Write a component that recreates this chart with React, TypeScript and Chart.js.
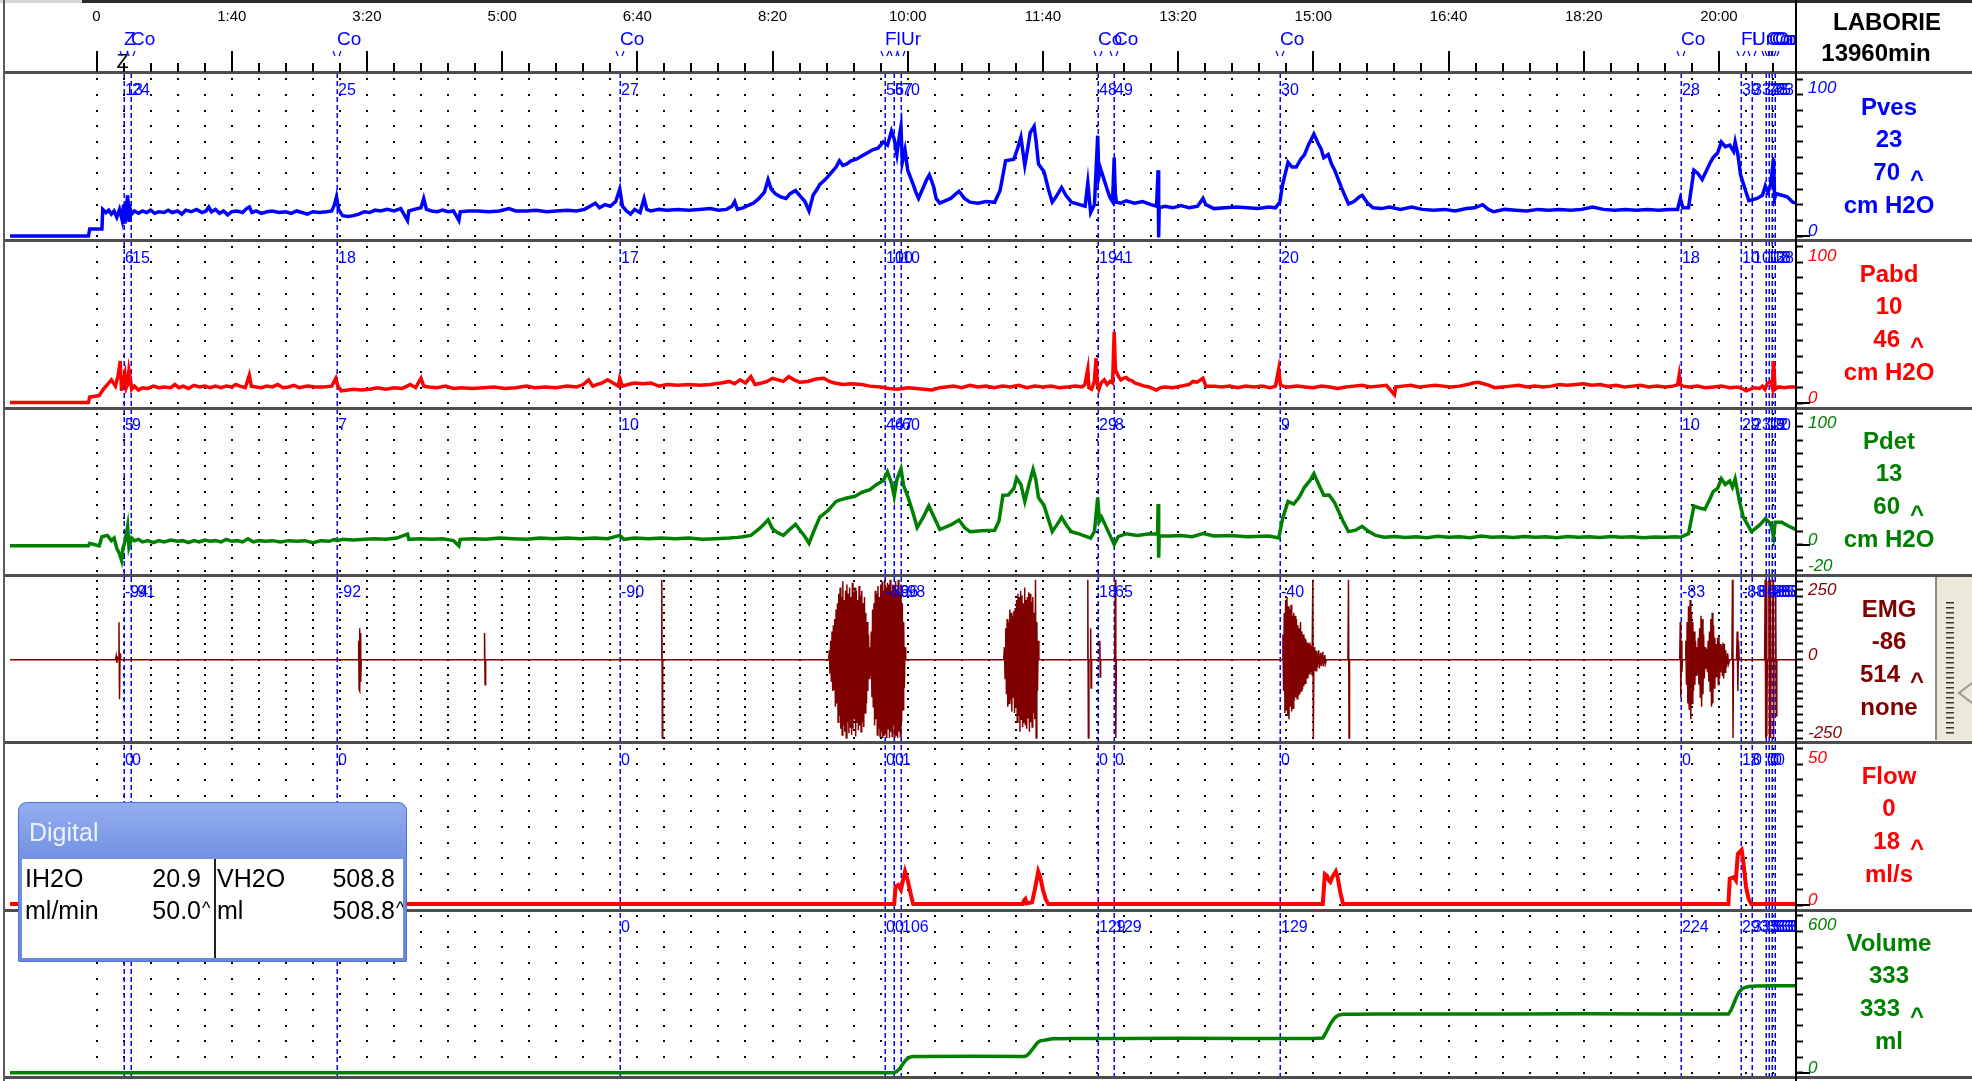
import React, { useEffect, useRef } from 'react';
import { Chart, registerables } from 'chart.js';

Chart.register(...registerables);

type Pt = [number, number];

const W = 1972;
const H = 1081;

// ---------- time axis ----------
const timeTickValues = [0, 100, 200, 300, 400, 500, 600, 700, 800, 900, 1000, 1100, 1200];
const timeTickLabels = ['0', '1:40', '3:20', '5:00', '6:40', '8:20', '10:00', '11:40', '13:20', '15:00', '16:40', '18:20', '20:00'];
const minorTimes: number[] = [];
for (let t = 0; t <= 1240; t += 20) minorTimes.push(t);

const brandLabel = 'LABORIE';
const durationLabel = '13960min';

// ---------- event markers ----------
const markerTimes = [20, 25.3, 177.5, 387, 583, 590, 595, 740.5, 752.7, 875.2, 1172.2, 1216, 1224.5, 1235, 1237, 1239, 1241.5];
const markerCodes = ['Z', 'Co', 'Co', 'Co', 'Fl', '', 'Ur', 'Co', 'Co', 'Co', 'Co', 'Fl', 'Ur', 'Co', 'Co', 'Co', 'Co'];
const pvesMarks = ['13', '24', '25', '27', '56', '57', '70', '48', '49', '30', '28', '39', '33', '26', '28', '25', '23'];
const pabdMarks = ['6', '15', '18', '17', '10', '10', '10', '19', '41', '20', '18', '10', '10', '13', '12', '18', '28'];
const pdetMarks = ['5', '9', '7', '10', '46', '47', '60', '29', '8', '9', '10', '29', '23', '13', '12', '20', '9'];
const emgMarks = ['-94', '-91', '-92', '-90', '-86', '-96', '-98', '18', '65', '-40', '-83', '-88', '-86', '-88', '-85', '-86', '-88'];
const flowMarks = ['0', '0', '0', '0', '0', '0', '1', '0', '0', '0', '0', '18', '0', '0', '0', '0', '0'];
const volMarks = ['0', '0', '0', '0', '0', '0', '106', '129', '129', '129', '224', '293', '333', '333', '333', '333', '333'];

// ---------- right-hand channel readouts ----------
const pvesInfo = ['Pves', '23', '70', 'cm H2O'];
const pabdInfo = ['Pabd', '10', '46', 'cm H2O'];
const pdetInfo = ['Pdet', '13', '60', 'cm H2O'];
const emgInfo = ['EMG', '-86', '514', 'none'];
const flowInfo = ['Flow', '0', '18', 'ml/s'];
const volInfo = ['Volume', '333', '333', 'ml'];

// ---------- axis ticks ----------
const pvesTicks = [0, 10, 20, 30, 40, 50, 60, 70, 80, 90, 100];
const pabdTicks = [0, 10, 20, 30, 40, 50, 60, 70, 80, 90, 100];
const pdetTicks = [-20, -10, 0, 10, 20, 30, 40, 50, 60, 70, 80, 90, 100];
const emgTicks = [-250, -225, -200, -175, -150, -125, -100, -75, -50, -25, 0, 25, 50, 75, 100, 125, 150, 175, 200, 225, 250];
const flowTicks = [0, 5, 10, 15, 20, 25, 30, 35, 40, 45, 50];
const volTicks = [0, 60, 120, 180, 240, 300, 360, 420, 480, 540, 600];

// ---------- traces (time s, value) ----------
const pves: Pt[] = [
  [-64, 0], [-6, 0], [-5, 4.5], [4, 4.5], [4.6, 17], [7, 15], [9, 16.5], [11, 14], [13, 16], [15, 12], [17, 17], [19, 10], [20, 20], [21, 8], [22, 18], [23, 26], [24, 9], [25, 17], [26, 14],
  [28, 16], [31, 14.5], [34, 16], [37, 15], [40, 16.5], [43, 14.5], [46, 15.5], [50, 15], [53, 16.5], [56, 15], [60, 16], [63, 14], [66, 16.5], [70, 15.5], [74, 17], [78, 15], [81, 16], [83, 18.5],
  [85, 15.5], [88, 17], [91, 14.5], [94, 16], [97, 13.5], [100, 15.5], [104, 16], [108, 15], [111, 17.5], [113, 18.5], [115, 15], [118, 16], [122, 14.5], [126, 15.5], [130, 16], [135, 15],
  [140, 15.5], [144, 14.5], [148, 16], [152, 15], [156, 14], [160, 15.5], [165, 15], [170, 15.5], [174, 16], [176, 20], [177.5, 25], [179, 17], [182, 13], [186, 12.5], [190, 13], [194, 14],
  [198, 15.5], [202, 15], [206, 16.5], [210, 16], [215, 17], [220, 16], [225, 17.5], [230, 10], [231, 16], [235, 17], [240, 18], [242, 24], [244, 17], [248, 16], [252, 15.5], [256, 16.5],
  [260, 15.5], [264, 16], [268, 10], [269, 15.5], [275, 16], [282, 16], [290, 15.5], [298, 16], [305, 17.5], [310, 16], [318, 16], [325, 16.5], [333, 15.5], [340, 16], [348, 16.5], [355, 16],
  [361, 17], [365, 19], [369, 21], [372, 18], [376, 20], [380, 19], [384, 22], [387, 30], [389, 19], [392, 16], [395, 14], [398, 17], [402, 15], [405, 24], [407, 17], [410, 16], [416, 17],
  [422, 16.5], [430, 17], [438, 16.5], [446, 17], [454, 17.5], [460, 16.5], [466, 17], [470, 19], [472, 22], [474, 17], [478, 18], [482, 19.5], [486, 21], [490, 24], [494, 28], [496.7, 36],
  [499, 30], [502, 27], [506, 25], [510, 24], [513, 27], [517, 29], [521, 25], [524, 22], [527, 16], [530, 26], [533, 30], [535, 33], [539, 36], [543, 40], [547, 44], [549.5, 48], [552, 45],
  [555, 46], [558, 48], [562, 49], [566, 51], [570, 53], [574, 55], [578, 56], [582, 60], [585, 58], [588, 67], [590, 62], [592, 52], [594, 65], [595, 70], [596, 47], [598, 55], [600, 42],
  [604, 33], [606, 28], [608, 24], [611, 30], [614, 36], [616, 39], [619, 32], [621, 24], [623.7, 21], [631.8, 24], [637.9, 28.6], [642, 24], [646, 21.6], [652, 21], [658, 22], [664.3, 21.5],
  [668.3, 29], [672.4, 48], [678.5, 49], [681.3, 56], [683.7, 63], [686.6, 45], [688.6, 55], [690.6, 66], [693.5, 70], [695, 60], [696.7, 46], [700.8, 41], [704, 30], [706.9, 21.6], [709.7, 25],
  [713.8, 31], [717, 26], [721, 21.6], [727.2, 20], [731.2, 19], [733.2, 34], [734.5, 22], [735.3, 15], [738.1, 20], [740.5, 64], [741.4, 38], [742.6, 43], [745.4, 35.5], [747.4, 30],
  [749.5, 24.8], [751.5, 22], [752.7, 50], [753.5, 28], [754.3, 21.6], [757.6, 21], [761.6, 22.5], [767.7, 21], [773.8, 22], [779.9, 20], [784, 19], [785.2, 42], [785.6, -0.9], [786, 18],
  [790, 19], [796.1, 18], [802.2, 19.5], [808.3, 18], [814.4, 19], [818.4, 24], [820.5, 20], [826.6, 17.5], [834.7, 18], [842.8, 18.5], [850.9, 18], [859, 17.5], [867.1, 18.5], [872, 18],
  [875.2, 21.6], [877.3, 33], [881.3, 47], [884.2, 44], [887.4, 44], [890.7, 49], [893.5, 52], [896.3, 58], [900.4, 65], [903.6, 59], [905.7, 55.7], [907.7, 50], [911, 52], [913.4, 46],
  [915.8, 42], [920.7, 31], [926, 20.5], [930, 22], [934, 25], [936.1, 26], [940.1, 21], [944.2, 18], [950.3, 17.5], [956.4, 18.5], [964.5, 17], [972.6, 18.5], [980.7, 17], [988.8, 16.5],
  [997, 17], [1005, 16], [1013.2, 17.5], [1019.3, 18], [1025.3, 20], [1029.4, 17], [1033.5, 15.5], [1041.6, 17], [1049.7, 16.5], [1057.8, 16], [1066, 17], [1074, 16.5], [1082.1, 17],
  [1090.3, 16.5], [1098.4, 17], [1106.5, 18.5], [1114.6, 17], [1122.7, 16.5], [1130.8, 17], [1139, 16.5], [1147, 17], [1155.2, 16.5], [1163.3, 17], [1169.4, 17], [1171.4, 24], [1173.4, 18],
  [1177.5, 18], [1179.5, 30], [1181.5, 42], [1184.4, 40], [1187.6, 36], [1190.9, 42], [1193.7, 47], [1195.7, 50], [1199, 53], [1201.8, 60], [1204.7, 57], [1208, 58], [1210.8, 54], [1212, 60],
  [1214, 52], [1216, 39], [1219.3, 30], [1222.1, 22.6], [1228.2, 24], [1232.2, 26], [1234.3, 32], [1236.3, 28], [1238.3, 33], [1240.4, 49.5], [1241.2, 24], [1242.4, 27], [1246.5, 26],
  [1250.5, 25], [1254.6, 21.6], [1257, 21],
];

const pabd: Pt[] = [
  [-64, 0.5], [-6, 0.5], [-5, 4], [2, 5], [5, 9], [8, 12], [11, 15], [14, 11], [16, 18], [17.5, 27], [18.5, 8], [19.5, 14], [21, 19], [22, 10], [23, 12], [24, 21], [25, 16], [26, 9], [28, 11],
  [31, 8.5], [34, 10], [38, 9.5], [42, 11], [46, 10], [50, 10.5], [55, 10], [58, 12], [61, 10], [64, 11], [68, 9.5], [72, 11.5], [76, 10.5], [80, 11], [84, 10], [88, 11], [92, 10], [96, 11],
  [100, 10.5], [103, 12], [106, 11], [110, 10], [113, 18], [114.5, 11], [118, 10.5], [122, 10], [126, 11], [130, 10.5], [134, 12], [138, 10], [142, 10.5], [146, 11.5], [150, 10], [156, 11],
  [162, 10.5], [168, 10.5], [174, 11], [177, 16], [178.5, 11], [181, 8], [186, 8.5], [190, 9], [196, 8.5], [202, 9], [208, 10], [214, 9], [220, 10], [226, 9.5], [232, 12], [236, 10], [240, 16],
  [242, 11], [246, 10.5], [252, 10], [258, 11], [264, 9.5], [270, 10], [278, 9.5], [286, 10], [294, 10.5], [302, 9.5], [310, 10], [318, 11], [324, 10], [332, 10.5], [340, 10], [348, 11],
  [355, 10.5], [360, 12], [364, 15], [367, 11], [370, 12], [374, 13], [378, 15], [382, 13], [386, 11], [387, 16], [389, 11], [393, 12], [398, 13], [404, 12.5], [410, 13], [416, 11], [422, 12],
  [430, 11.5], [438, 12], [446, 11.5], [454, 12], [462, 13], [468, 14], [472, 12.5], [476, 15], [480, 13], [484, 17], [487, 12], [492, 13], [496, 14], [500, 16], [504, 15], [508, 14], [512, 17],
  [516, 15], [520, 13.5], [526, 14], [532, 15.5], [538, 16], [542, 14], [546, 13], [552, 12], [558, 12.5], [566, 12], [572, 11], [580, 10.5], [586, 9.5], [592, 9], [600, 10], [606, 9.5], [612, 9],
  [618, 8.5], [623.7, 10], [628, 10.5], [634, 11], [640, 10], [646, 11.5], [652, 10.5], [658, 11], [664, 10], [670, 11], [676, 10.5], [682, 11.5], [688, 10], [694, 11], [700, 10.5], [706, 11],
  [712, 10], [718, 10.5], [724, 11], [729, 10.5], [731, 12], [733.2, 22], [734, 10], [736, 9], [738, 14], [739.3, 28.8], [740.2, 12], [741.4, 9], [743, 13], [745.4, 15], [747.5, 12], [749.5, 14],
  [751.5, 13], [752.7, 45.7], [753.6, 22], [754.3, 20], [756, 17], [757.6, 15], [759.5, 16], [761.6, 16.5], [763.5, 15], [765.7, 14.5], [768, 13], [771.8, 12], [775, 11], [777.9, 10.6],
  [781, 9.5], [783.9, 8.5], [787, 10], [790, 10.5], [796, 10], [802, 11], [808, 12], [811, 14], [814, 13.5], [818.4, 16], [820.5, 11], [826.6, 11], [832, 10.5], [838, 11], [844, 10],
  [850, 11], [856, 10.5], [862, 11], [868, 10], [872, 11], [874.4, 22], [875.6, 12], [877.3, 11], [882, 10.5], [888, 11], [894, 10.5], [900, 10], [906, 11], [912, 10.5], [918, 9.5], [924, 10.5],
  [930, 11], [936, 11.5], [942, 10.5], [948, 11], [954, 11.5], [960, 5.5], [961, 10.5], [966, 11], [972, 11.5], [978, 10.5], [984, 11], [990, 11.5], [996, 11], [1002, 10.5], [1008, 11],
  [1014, 12], [1018, 13], [1022, 13.5], [1026, 12.5], [1030, 11.5], [1034, 10], [1040, 10.5], [1046, 11], [1052, 11.5], [1058, 10.5], [1064, 11], [1070, 10.5], [1076, 11], [1082, 12],
  [1088, 11.5], [1094, 12], [1100, 12.5], [1106, 11.5], [1112, 12], [1118, 11], [1124, 11.5], [1130, 10.5], [1136, 11], [1142, 11.5], [1148, 10.5], [1154, 11], [1160, 10.5], [1166, 11],
  [1169.5, 12], [1170.6, 18], [1171.5, 12], [1173.4, 11], [1178, 10.5], [1184, 11], [1190, 10], [1196, 10.5], [1202, 11], [1208, 10], [1214, 10.5], [1218, 9], [1220.1, 8], [1223, 9],
  [1226, 10], [1230, 9.5], [1232.2, 11], [1234, 9], [1236, 13], [1238.3, 14], [1239.5, 10], [1240.4, 27], [1241.6, 9], [1244, 10.5], [1248.5, 10], [1252, 10.5], [1257, 10.5],
];

const pdet: Pt[] = [
  [-64, -1], [-6, -1], [-5, 1], [2, -1], [4, 6], [8, 7], [11, 3], [13, 5], [15, -3], [17, -7], [18.5, -12], [19.5, -3], [21, 2], [23, 14], [24, -2], [26, 5], [28, 3], [31, 4], [34, 2], [38, 3],
  [42, 1.5], [46, 3], [50, 2], [55, 3.5], [60, 2.5], [64, 3], [68, 1.5], [72, 3], [76, 2], [80, 3.5], [84, 2.5], [88, 3], [92, 2], [96, 4], [100, 2.5], [104, 3], [108, 2], [112, 4.5], [116, 2],
  [120, 3], [125, 2.5], [130, 3], [136, 2], [142, 3], [148, 2.5], [154, 3], [160, 1.5], [166, 3], [172, 2.5], [176, 4], [178, 3], [182, 4], [190, 3.5], [198, 4], [206, 4.5], [214, 4], [222, 5],
  [230, 8], [231, 4], [240, 4.5], [248, 4], [256, 4.5], [264, 3], [268, -1], [269, 4], [278, 4.5], [288, 4], [298, 5], [308, 4.5], [318, 4], [328, 5], [338, 4.5], [348, 5], [358, 4.5], [368, 5],
  [378, 4.5], [387, 7], [390, 4], [398, 5], [408, 4.5], [418, 5], [428, 4.5], [438, 5], [448, 4], [458, 4.5], [468, 5], [474, 5.5], [478, 6], [484, 7], [490, 12], [494, 16], [496.7, 19],
  [500, 12], [504, 9], [508, 7], [512, 11], [517, 15.5], [521, 10], [524, 6], [527, 1], [530, 9], [535, 21], [541, 26], [547, 33], [549.5, 34], [555, 35.6], [561, 37], [566, 40], [572, 42],
  [577, 46], [582, 49], [585, 55.7], [588, 47], [590, 37], [592, 50], [595, 57.9], [597, 45], [600, 37], [604, 24], [607, 13], [611, 20], [615.6, 29.6], [619, 22], [623.7, 11.5], [631.8, 15],
  [637.9, 18.8], [642, 13], [646, 9.9], [654.1, 10.5], [664.3, 11], [667.5, 18], [670.4, 37.8], [674.4, 38], [678.5, 43], [680.5, 51], [683.7, 46], [686.6, 33], [689.4, 45], [692.7, 57.6],
  [694.7, 50], [696.7, 36], [700.8, 30], [706.9, 9.9], [710.9, 16], [713.8, 20.8], [717.8, 14], [721, 9.9], [727.2, 8], [735.3, 5], [738.1, 10], [740.5, 36], [741.8, 18], [743.4, 21],
  [747.4, 12], [752.7, 0], [755.6, 6], [761.6, 8.3], [769.8, 7], [777.9, 8], [784.8, 8], [785.2, 31], [785.6, -10], [786, 6.6], [794.1, 6.5], [802.2, 7], [810.3, 6], [818.4, 8.5], [826.6, 6.5],
  [838.7, 7], [850.9, 6], [867.1, 6.5], [874.4, 5], [877.3, 20], [881.3, 33], [885.4, 31], [889.4, 36], [893.5, 44], [897.5, 49], [900.4, 54.3], [903.6, 47], [907.7, 37.8], [911.7, 38],
  [915.8, 32], [921.9, 18], [926, 9.9], [931.2, 11], [936.1, 14], [941, 10], [946.2, 7], [952.3, 5.6], [960, 6.2], [968, 5.4], [976, 6], [984, 5.2], [992, 6.4], [1000, 5.6], [1008, 6],
  [1016, 5.3], [1024, 6.5], [1032, 5.6], [1040, 6], [1048, 5.4], [1056, 6.2], [1064, 5.6], [1072, 6], [1080, 5.3], [1088, 6.1], [1096, 5.6], [1104, 6], [1112, 5.4], [1120, 6.2], [1128, 5.6],
  [1136, 6], [1144, 5.2], [1152, 5.8], [1160, 5.6], [1168, 6], [1171.4, 5.6], [1177.5, 8.3], [1181.5, 29.5], [1185.6, 28], [1189.6, 27], [1192.9, 34], [1195.7, 40.5], [1199, 43],
  [1201.8, 50.4], [1204.7, 46], [1208, 48.6], [1210, 44], [1212, 50.4], [1215.2, 33], [1218, 21], [1224.1, 9.9], [1230.2, 15], [1234.3, 19.8], [1238.3, 16], [1240.4, 6], [1241.6, 17],
  [1246.5, 17], [1251.7, 14], [1257, 11.5],
];

const emg: Pt[] = [
  [-64, 0], [14, 0], [14.5, 12], [15, -10], [15.5, 6], [16.2, 0], [16.6, 119], [17, -126], [17.4, 20], [17.8, 0],
  [193.6, 0], [193.9, 60], [194.2, -95], [194.5, 100], [194.8, -100], [195.1, 85], [195.4, -70], [195.8, 0],
  [286.6, 0], [287, 85], [287.4, -80], [287.8, 0],
  [417.8, 0], [418.1, 255], [418.5, -250], [418.8, 0],
  [541.5, 0], [542, 30], [542.5, -45], [543, 60], [543.5, -70], [544, 90], [544.5, -100], [545, 110], [545.5, -95], [546, 130], [546.5, -150], [547, 160], [547.5, -140], [548, 180],
  [548.5, -200], [549, 210], [549.5, -180], [550, 230], [550.5, -220], [551, 200], [551.5, -240], [552, 250], [552.5, -210], [553, 190], [553.5, -230], [554, 220], [554.5, -250], [555, 240],
  [555.5, -200], [556, 210], [556.5, -235], [557, 230], [557.5, -215], [558, 200], [558.5, -240], [559, 245], [559.5, -220], [560, 215], [560.5, -190], [561, 230], [561.5, -245], [562, 220],
  [562.5, -200], [563, 190], [563.5, -225], [564, 235], [564.5, -210], [565, 205], [565.5, -230], [566, 220], [566.5, -200], [567, 180], [567.5, -215], [568, 200], [568.5, -170], [569, 150],
  [569.5, -140], [570, 120], [570.5, -100], [571, 80], [571.5, -60], [572, 40], [572.5, -50], [573, 90], [573.5, -120], [574, 160], [574.5, -150], [575, 180], [575.5, -210], [576, 220],
  [576.5, -190], [577, 210], [577.5, -240], [578, 235], [578.5, -220], [579, 200], [579.5, -245], [580, 240], [580.5, -230], [581, 250], [581.5, -250], [582, 220], [582.5, -240], [583, 255],
  [583.5, -235], [584, 230], [584.5, -250], [585, 245], [585.5, -220], [586, 240], [586.5, -250], [587, 255], [587.5, -230], [588, 220], [588.5, -245], [589, 240], [589.5, -210], [590, 230],
  [590.5, -250], [591, 250], [591.5, -240], [592, 225], [592.5, -250], [593, 255], [593.5, -230], [594, 210], [594.5, -245], [595, 240], [595.5, -200], [596, 180], [596.5, -160], [597, 120],
  [597.5, -90], [598, 40], [598.5, 0],
  [671, 0], [671.5, 40], [672, -60], [672.5, 100], [673, -110], [673.5, 130], [674, -150], [674.5, 120], [675, -140], [675.5, 160], [676, -130], [676.5, 150], [677, -165], [677.5, 140],
  [678, -120], [678.5, 155], [679, -170], [679.5, 165], [680, -150], [680.5, 190], [681, -200], [681.5, 210], [682, -180], [682.5, 200], [683, -230], [683.5, 220], [684, -190], [684.5, 205],
  [685, -215], [685.5, 180], [686, -200], [686.5, 230], [687, -210], [687.5, 190], [688, -220], [688.5, 200], [689, -185], [689.5, 215], [690, -230], [690.5, 210], [691, -200], [691.5, 185],
  [692, -215], [692.5, 200], [693, -170], [693.5, 150], [694, -190], [694.5, 255], [695, -250], [695.5, 120], [696, -100], [696.5, 60], [697, 0],
  [732.8, 0], [733.2, 255], [733.6, -250], [734, 0], [735, 0], [735.3, 100], [735.6, -90], [736, 0], [741.8, 0], [742.1, 60], [742.4, -55], [742.7, 0], [753.1, 0], [753.5, 255], [753.9, -250], [754.3, 0],
  [877, 0], [877.5, 80], [878, -100], [878.5, 150], [879, -170], [879.5, 190], [880, -160], [880.5, 200], [881, -180], [881.5, 170], [882, -190], [882.5, 160], [883, -150], [883.5, 175],
  [884, -165], [884.5, 140], [885, -155], [885.5, 150], [886, -130], [886.5, 140], [887, -120], [887.5, 130], [888, -125], [888.5, 110], [889, -115], [889.5, 100], [890, -110], [890.5, 120],
  [891, -100], [891.5, 90], [892, -95], [892.5, 80], [893, -85], [893.5, 70], [894, -75], [894.5, 65], [895, -60], [895.5, 55], [896, -60], [896.5, 50], [897, -45], [897.5, 55], [898, -40],
  [898.5, 45], [899, -50], [899.6, 255], [900, -250], [900.5, 40], [901, -35], [901.5, 30], [902, -35], [902.5, 28], [903, -25], [904, 30], [904.5, -28], [905.5, 22], [906, -20], [907, 25],
  [907.5, -22], [908.5, 15], [909, -12], [909.7, 0],
  [925.6, 0], [926, 255], [926.4, -250], [926.8, 0],
  [1171, 0], [1171.4, 120], [1171.8, -120], [1172.2, 60], [1172.6, -40], [1173, 0], [1175, 0], [1175.5, 60], [1176, -80], [1176.5, 120], [1177, -140], [1177.5, 170], [1178, -160],
  [1178.7, 190], [1179.2, -190], [1179.7, 150], [1180.2, -140], [1180.7, 120], [1181.2, -100], [1181.7, 90], [1182.2, -80], [1182.7, 60], [1183.2, -50], [1183.7, 40], [1184.2, -45],
  [1184.7, 70], [1185.2, -80], [1185.7, 100], [1186.2, -120], [1186.7, 140], [1187.2, -150], [1187.7, 130], [1188.2, -110], [1188.7, 80], [1189.2, -60], [1189.7, 40], [1190.2, -30],
  [1191, 35], [1191.5, -40], [1192, 60], [1192.5, -70], [1193, 90], [1193.5, -100], [1194, 130], [1194.5, -150], [1195, 150], [1195.5, -140], [1196, 110], [1196.5, -90], [1197, 70],
  [1197.5, -60], [1198, 50], [1198.5, -55], [1199, 70], [1199.5, -80], [1200, 75], [1200.5, -60], [1201, 50], [1201.5, -40], [1202, 45], [1202.5, -50], [1203, 55], [1203.5, -60], [1204, 50],
  [1204.5, -40], [1205, 30], [1205.5, -25], [1206.5, 20], [1207, -15], [1208, 0], [1209.6, 0], [1210, 255], [1210.4, -250], [1210.8, 0], [1213, 0], [1213.5, 90], [1214, -100], [1214.5, 60],
  [1215, 0], [1233.8, 0], [1234.2, 255], [1234.6, -250], [1235, 250], [1235.4, -245], [1235.8, 0], [1236.6, 0], [1237, 255], [1237.4, -250], [1237.8, 255], [1238.2, -250], [1238.6, 0],
  [1239.6, 0], [1240, 255], [1240.4, -250], [1240.8, 0], [1241.5, 0], [1242, 200], [1242.4, -180], [1242.8, 0], [1257, 0],
];

const flow: Pt[] = [
  [-64, 0.4], [590, 0.4], [591, 6], [593, 6.5], [595, 5], [596, 7], [598, 10.8], [600, 8], [602, 4], [604, 0.4], [685, 0.4], [686, 1.5], [687, 2], [688, 0.6], [692, 1], [694, 5], [696.5, 10.8],
  [698, 9], [700, 5], [702, 2], [704, 0.4], [907, 0.4], [908.5, 10], [910, 9.5], [911.5, 8], [912.6, 7.5], [914, 9], [916.6, 10.8], [918, 9], [920, 4], [922, 0.4], [1207, 0.4], [1208, 8.5],
  [1211, 9], [1212.5, 8], [1214, 16.4], [1216.8, 17.7], [1218, 14], [1220, 6], [1222, 2], [1224, 0.4], [1257, 0.4],
];

const volume: Pt[] = [
  [-64, 0], [590, 0], [592, 5], [594, 15], [596, 30], [598, 45], [600, 55], [602, 60], [604, 62], [610, 62], [650, 62.5], [686, 62], [688, 65], [690, 75], [693, 95], [696, 115], [698, 122],
  [701, 124], [705, 128], [708, 131], [712, 130], [720, 131], [760, 131], [800, 131.5], [850, 131], [900, 131], [907, 133], [909, 150], [911, 170], [913, 190], [915, 205], [917, 215],
  [919, 221], [922, 224], [930, 224], [950, 225], [1000, 225], [1050, 225], [1100, 225.5], [1150, 225], [1207, 225], [1209, 240], [1211, 265], [1213, 290], [1215, 310], [1217, 320],
  [1219, 326], [1222, 330], [1228, 332], [1240, 333], [1257, 333],
];

// ---------- panel set-up (top to bottom) ----------
const FONT = '"Liberation Sans", Arial, sans-serif';

const panels = [
  { id: 'yPves', color: '#0000ff', min: -2.74, max: 104, ticks: pvesTicks, data: pves, width: 3.5, info: pvesInfo, marks: pvesMarks, zeroTick: true, yLabels: [[100, '100', 'top'], [0, '0', 'bottom']] },
  { id: 'yPabd', color: '#ff0000', min: -2.74, max: 104, ticks: pabdTicks, data: pabd, width: 3.5, info: pabdInfo, marks: pabdMarks, zeroTick: true, yLabels: [[100, '100', 'top'], [0, '0', 'bottom']] },
  { id: 'yPdet', color: '#008000', min: -23.3, max: 104.8, ticks: pdetTicks, data: pdet, width: 3.5, info: pdetInfo, marks: pdetMarks, zeroTick: true, yLabels: [[100, '100', 'top'], [0, '0', 'bottom'], [-20, '-20', 'bottom']] },
  { id: 'yEmg', color: '#800000', min: -263.7, max: 270.1, ticks: emgTicks, data: emg, width: 1.5, info: emgInfo, marks: emgMarks, zeroTick: false, yLabels: [[250, '250', 'top'], [0, '0', 'bottom'], [-250, '-250', 'bottom']] },
  { id: 'yFlow', color: '#ff0000', min: -1.37, max: 52, ticks: flowTicks, data: flow, width: 4, info: flowInfo, marks: flowMarks, zeroTick: true, yLabels: [[50, '50', 'top'], [0, '0', 'bottom']] },
  { id: 'yVol', color: '#008000', min: -16.5, max: 624, ticks: volTicks, data: volume, width: 3.5, info: volInfo, marks: volMarks, zeroTick: true, yLabels: [[600, '600', 'top'], [0, '0', 'bottom']] },
];

const RIGHT_W = 176;

const drawPlugin = {
  id: 'laborieDecor',
  beforeDraw(chart: any) {
    const ctx = chart.ctx;
    ctx.save();
    ctx.fillStyle = '#ffffff';
    ctx.fillRect(0, 0, W, H);
    ctx.restore();
  },
  beforeDatasetsDraw(chart: any) {
    const ctx = chart.ctx;
    const ca = chart.chartArea;
    const xs = chart.scales.x;
    ctx.save();
    ctx.fillStyle = '#000';
    for (const p of panels) {
      const ys = chart.scales[p.id];
      for (const v of p.ticks) {
        const y = Math.round(ys.getPixelForValue(v));
        for (const t of minorTimes) {
          const x = Math.round(xs.getPixelForValue(t));
          ctx.fillRect(x - 1, y - 1, 2, 2);
        }
      }
    }
    ctx.strokeStyle = '#0000ff';
    ctx.lineWidth = 1.5;
    ctx.setLineDash([5, 3]);
    for (const t of markerTimes) {
      const x = Math.round(xs.getPixelForValue(t)) + 0.25;
      ctx.beginPath();
      ctx.moveTo(x, ca.top);
      ctx.lineTo(x, ca.bottom);
      ctx.stroke();
    }
    ctx.restore();
  },
  afterDatasetsDraw(chart: any) {
    const ctx = chart.ctx;
    const ca = chart.chartArea;
    const xs = chart.scales.x;
    ctx.save();

    // panel separators
    ctx.fillStyle = '#4d4d4d';
    for (let i = 1; i < panels.length; i++) {
      const y = Math.round(chart.scales[panels[i].id].top);
      ctx.fillRect(4, y - 1, W - 4, 3);
    }
    ctx.fillRect(4, Math.round(ca.bottom) - 1, W - 4, 3);
    ctx.fillRect(4, Math.round(ca.top) - 2, W - 4, 3);
    // frame
    ctx.fillStyle = '#2b2b2b';
    ctx.fillRect(0, 0, W, 3);
    ctx.fillStyle = '#d8d8d8';
    ctx.fillRect(0, 0, 82, 3);
    ctx.fillStyle = '#5a5a5a';
    ctx.fillRect(3, 0, 2, H);
    ctx.fillStyle = '#000';
    ctx.fillRect(Math.round(ca.right) - 1, 0, 2, H);

    // header ticks & time labels
    ctx.fillStyle = '#000';
    for (const t of minorTimes) {
      const x = Math.round(xs.getPixelForValue(t));
      const major = timeTickValues.indexOf(t) >= 0;
      if (major) ctx.fillRect(x - 1, 51, 2, 21);
      else ctx.fillRect(x - 1, 63, 2, 9);
    }
    ctx.font = `15px ${FONT}`;
    ctx.textAlign = 'center';
    ctx.textBaseline = 'middle';
    timeTickValues.forEach((t, i) => ctx.fillText(timeTickLabels[i], xs.getPixelForValue(t), 17));

    // black zero flag
    ctx.font = `20px ${FONT}`;
    ctx.fillText('Z', xs.getPixelForValue(markerTimes[0]) - 1, 62);

    // marker texts (clipped to the plot width)
    ctx.save();
    ctx.beginPath();
    ctx.rect(0, 0, ca.right - 1, H);
    ctx.clip();
    ctx.fillStyle = '#0000ff';
    ctx.strokeStyle = '#0000ff';
    ctx.lineWidth = 1.2;
    ctx.textAlign = 'left';
    ctx.textBaseline = 'middle';
    ctx.font = `19px ${FONT}`;
    markerTimes.forEach((t, i) => {
      const x = Math.round(xs.getPixelForValue(t));
      if (markerCodes[i]) ctx.fillText(markerCodes[i], x, 40);
      ctx.beginPath();
      ctx.moveTo(x - 4, 51);
      ctx.lineTo(x - 2, 56);
      ctx.moveTo(x + 2, 56);
      ctx.lineTo(x + 4, 51);
      ctx.stroke();
    });
    ctx.font = `16px ${FONT}`;
    for (const p of panels) {
      const top = chart.scales[p.id].top;
      markerTimes.forEach((t, i) => {
        const x = Math.round(xs.getPixelForValue(t));
        ctx.fillText(p.marks[i], x + 1, top + 18);
      });
    }
    ctx.restore();

    // right panel header
    const cx = 1889;
    ctx.fillStyle = '#000';
    ctx.textAlign = 'center';
    ctx.textBaseline = 'middle';
    ctx.font = `bold 24px ${FONT}`;
    ctx.fillText(brandLabel, 1887, 23);
    ctx.fillText(durationLabel, 1876, 54);

    for (const p of panels) {
      const s = chart.scales[p.id];
      const top = s.top;
      ctx.fillStyle = p.color;
      ctx.font = `bold 24px ${FONT}`;
      ctx.textAlign = 'center';
      ctx.textBaseline = 'middle';
      ctx.fillText(p.info[0], cx, top + 35);
      ctx.fillText(p.info[1], cx, top + 67);
      ctx.textAlign = 'right';
      ctx.fillText(p.info[2], 1900, top + 100);
      ctx.textAlign = 'center';
      ctx.fillText(p.info[3], cx, top + 133);
      ctx.font = `bold 24px ${FONT}`;
      ctx.textBaseline = 'alphabetic';
      ctx.fillText('^', 1917, top + 114);

      ctx.font = `italic 17px ${FONT}`;
      ctx.textAlign = 'left';
      ctx.textBaseline = 'alphabetic';
      for (const [v, txt, al] of p.yLabels as any[]) {
        const y = s.getPixelForValue(v);
        ctx.fillText(txt, 1808, al === 'top' ? y + 14 : y);
      }
      if (p.zeroTick) {
        ctx.fillStyle = '#000';
        ctx.fillRect(ca.right, Math.round(s.getPixelForValue(0)) - 1, 14, 2);
      }
    }

    // EMG scroll widget
    const emgS = chart.scales.yEmg;
    const wy0 = Math.round(emgS.top) + 2;
    const wy1 = Math.round(emgS.bottom) - 2;
    ctx.fillStyle = '#ece9d8';
    ctx.fillRect(1935, wy0, W - 1935, wy1 - wy0);
    ctx.fillStyle = '#8c8c8c';
    ctx.fillRect(1935, wy0, 2, wy1 - wy0);
    ctx.fillStyle = '#333';
    for (let y = wy0 + 25; y < wy1 - 4; y += 5) ctx.fillRect(1946, y, 8, 1.5);
    ctx.strokeStyle = '#9a9a9a';
    ctx.lineWidth = 2;
    ctx.beginPath();
    ctx.moveTo(W, wy0 + 106);
    ctx.lineTo(1959, wy0 + 116);
    ctx.lineTo(W, wy0 + 126);
    ctx.stroke();

    ctx.restore();
  },
};

function DigitalBox() {
  const txt: React.CSSProperties = { position: 'absolute', fontSize: 25, lineHeight: '26px', color: '#000', whiteSpace: 'nowrap' };
  return (
    <div
      style={{
        position: 'absolute', left: 18, top: 802, width: 389, height: 160,
        borderRadius: '9px 9px 2px 2px',
        background: 'linear-gradient(180deg, #93aef0 0%, #7492e2 35%, #6a88dc 100%)',
        boxShadow: 'inset 0 0 0 1px #5573cc',
        fontFamily: FONT, overflow: 'hidden',
      }}
    >
      <div style={{ position: 'absolute', left: 11, top: 0, height: 57, lineHeight: '60px', color: '#eef2ff', fontSize: 25 }}>Digital</div>
      <div style={{ position: 'absolute', left: 4, top: 57, width: 381, height: 99, background: '#fff', overflow: 'hidden' }}>
        <span style={{ ...txt, left: 3, top: 6 }}>IH2O</span>
        <span style={{ ...txt, right: 202, top: 6 }}>20.9</span>
        <span style={{ ...txt, left: 3, top: 38 }}>ml/min</span>
        <span style={{ ...txt, right: 202, top: 38 }}>50.0</span>
        <span style={{ ...txt, left: 180, top: 36, fontSize: 18 }}>^</span>
        <div style={{ position: 'absolute', left: 192, top: 0, width: 2, height: 99, background: '#222' }} />
        <span style={{ ...txt, left: 195, top: 6 }}>VH2O</span>
        <span style={{ ...txt, right: 8, top: 6 }}>508.8</span>
        <span style={{ ...txt, left: 195, top: 38 }}>ml</span>
        <span style={{ ...txt, right: 8, top: 38 }}>508.8</span>
        <span style={{ ...txt, left: 374, top: 36, fontSize: 18 }}>^</span>
      </div>
    </div>
  );
}

export default function App() {
  const ref = useRef<HTMLCanvasElement | null>(null);

  useEffect(() => {
    if (!ref.current) return;
    const scales: any = {
      x: { type: 'linear', min: -64, max: 1257, display: false },
    };
    panels.forEach((p) => {
      scales[p.id] = {
        type: 'linear',
        position: 'right',
        stack: 'panels',
        stackWeight: 1,
        min: p.min,
        max: p.max,
        afterBuildTicks: (s: any) => {
          s.ticks = p.ticks.map((v) => ({ value: v }));
        },
        afterFit: (s: any) => {
          s.width = RIGHT_W;
        },
        ticks: { display: false },
        grid: { drawOnChartArea: false, drawTicks: true, tickLength: 7, tickWidth: 2, tickColor: '#000', color: '#000' },
        border: { display: true, color: '#000', width: 2 },
      };
    });

    const chart = new Chart(ref.current, {
      type: 'line',
      data: {
        datasets: panels.map((p) => ({
          data: p.data.map(([x, y]) => ({ x, y })),
          yAxisID: p.id,
          xAxisID: 'x',
          borderColor: p.color,
          backgroundColor: p.color,
          borderWidth: p.width,
          borderJoinStyle: 'miter' as const,
          pointRadius: 0,
          tension: 0,
          fill: false,
        })),
      },
      options: {
        animation: false,
        responsive: false,
        events: [],
        parsing: false as any,
        normalized: true,
        layout: { padding: { left: 10, top: 73, right: 0, bottom: 4 } },
        plugins: { legend: { display: false }, tooltip: { enabled: false } },
        scales,
      } as any,
      plugins: [drawPlugin as any],
    });
    return () => chart.destroy();
  }, []);

  return (
    <div style={{ position: 'absolute', left: 0, top: 0, width: W, height: H, overflow: 'hidden', background: '#fff' }}>
      <canvas ref={ref} width={W} height={H} style={{ display: 'block', width: W, height: H }} />
      <DigitalBox />
    </div>
  );
}
